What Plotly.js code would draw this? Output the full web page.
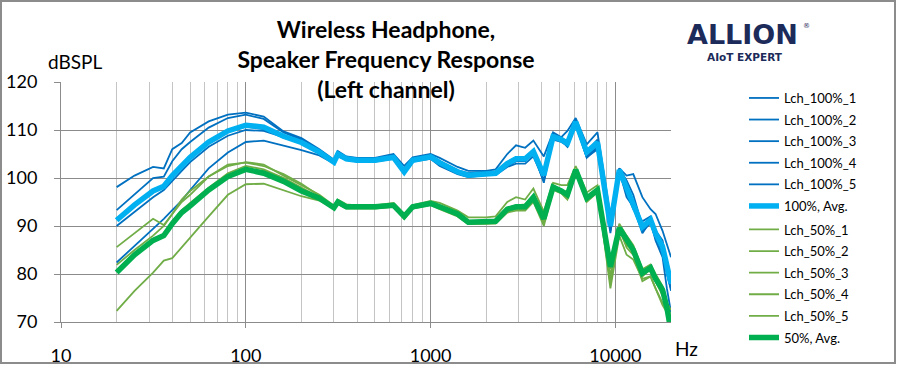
<!DOCTYPE html>
<html><head><meta charset="utf-8">
<script src="https://cdn.plot.ly/plotly-3.0.1.min.js"></script>
<style>
html,body{margin:0;padding:0;background:#fff;}
#wrap{position:relative;width:897px;height:365px;overflow:hidden;}
#chart{width:897px;height:365px;}
#frame{position:absolute;left:0;top:0;width:896px;height:364px;border:2px solid #8c8c8c;box-sizing:border-box;pointer-events:none;}
</style></head><body>
<div id="wrap"><div id="chart"></div><div id="frame"></div></div>
<script>
const freqHz = [20, 25, 31.5, 36, 40, 45, 50, 63, 80, 100, 125, 160, 200, 250, 300, 315, 350, 400, 500, 630, 720, 800, 1000, 1120, 1400, 1600, 2000, 2250, 2600, 2900, 3250, 3600, 4100, 4600, 5100, 5500, 6100, 7000, 8000, 9400, 10500, 11500, 12500, 14000, 15500, 16500, 18000, 19000, 20000];

const lch100_1 = [98.1, 100.5, 102.3, 102.0, 106.0, 107.3, 109.5, 111.8, 113.2, 113.6, 112.8, 109.7, 108.3, 106.0, 103.8, 105.6, 104.5, 104.2, 104.2, 105.0, 102.5, 104.3, 105.0, 104.2, 102.3, 101.5, 101.5, 101.8, 105.0, 106.8, 106.3, 107.8, 104.5, 109.5, 108.5, 109.8, 112.5, 107.0, 109.5, 92.0, 102.0, 100.5, 100.8, 96.0, 93.5, 92.5, 89.0, 86.0, 83.5];
const lch100_2 = [93.3, 96.5, 100.0, 100.3, 103.5, 106.0, 107.5, 110.5, 112.5, 113.2, 112.3, 109.5, 108.0, 105.8, 103.6, 105.4, 104.3, 104.0, 104.0, 104.6, 101.6, 104.0, 104.7, 103.5, 101.6, 101.0, 101.3, 101.3, 103.3, 104.3, 104.3, 105.8, 101.0, 109.0, 108.3, 107.5, 112.0, 105.5, 108.0, 89.0, 101.0, 97.0, 93.5, 91.0, 92.0, 88.5, 84.5, 80.0, 77.0];
const lch100_3 = [91.5, 94.6, 97.2, 98.2, 100.4, 102.4, 104.2, 107.3, 109.6, 110.7, 110.2, 108.4, 107.3, 105.5, 103.2, 104.9, 103.9, 103.6, 103.5, 104.2, 101.0, 103.6, 104.2, 103.0, 101.0, 100.3, 100.8, 100.8, 102.5, 103.5, 103.6, 105.0, 99.5, 108.2, 107.6, 106.8, 111.5, 104.5, 106.5, 89.5, 101.8, 97.5, 94.0, 89.0, 90.5, 87.5, 84.5, 80.5, 76.5];
const lch100_4 = [90.0, 93.0, 96.0, 97.5, 99.5, 101.5, 103.3, 106.5, 108.8, 110.0, 109.8, 108.5, 107.8, 105.5, 103.3, 105.0, 104.0, 103.8, 103.8, 104.3, 101.0, 103.7, 104.3, 103.0, 101.2, 100.5, 100.8, 100.8, 102.6, 103.5, 103.5, 105.2, 99.0, 108.5, 107.8, 106.5, 111.3, 104.2, 106.5, 91.0, 102.0, 99.5, 96.5, 90.0, 90.5, 89.0, 87.0, 82.5, 79.0];
const lch100_5 = [82.4, 85.8, 89.3, 91.5, 93.3, 95.3, 97.5, 102.0, 105.3, 107.5, 107.8, 106.8, 105.8, 104.7, 103.0, 104.5, 103.7, 103.4, 103.4, 104.0, 101.2, 103.4, 104.0, 102.5, 100.8, 100.2, 100.6, 100.6, 102.3, 103.0, 103.0, 104.5, 99.5, 108.0, 107.5, 106.8, 111.0, 104.3, 106.0, 88.5, 101.5, 96.0, 94.0, 88.5, 91.0, 87.0, 83.5, 77.0, 72.0];
const avg100 = [91.2, 94.4, 97.3, 98.3, 100.5, 102.5, 104.3, 107.5, 109.8, 111.0, 110.6, 108.7, 107.4, 105.4, 103.3, 105.0, 104.0, 103.7, 103.7, 104.3, 101.3, 103.7, 104.4, 103.2, 101.3, 100.6, 101.0, 101.0, 103.0, 104.0, 104.0, 105.5, 100.6, 108.6, 108.0, 107.2, 111.7, 105.4, 107.4, 90.0, 101.7, 98.0, 94.5, 89.8, 91.3, 88.5, 85.7, 82.0, 78.0];

const lch50_1 = [85.6, 88.5, 91.5, 90.2, 92.5, 95.5, 97.3, 100.3, 102.5, 103.3, 102.8, 100.5, 98.5, 96.5, 94.2, 95.5, 94.5, 94.3, 94.3, 94.8, 92.5, 94.3, 95.2, 94.8, 93.2, 91.8, 91.8, 92.0, 95.0, 96.0, 95.5, 97.8, 93.0, 99.0, 98.5, 98.5, 102.5, 97.0, 98.5, 79.0, 89.0, 86.0, 85.0, 81.0, 80.5, 78.5, 75.5, 74.0, 72.5];
const lch50_2 = [81.9, 85.0, 88.0, 90.0, 92.5, 95.0, 96.5, 100.3, 102.8, 103.2, 102.5, 100.8, 98.8, 96.3, 94.0, 95.2, 94.2, 94.2, 94.2, 94.6, 92.3, 94.2, 94.8, 94.2, 92.6, 91.0, 91.0, 91.2, 93.8, 94.3, 94.5, 96.3, 91.5, 98.5, 97.5, 97.0, 101.8, 96.0, 97.5, 77.0, 88.0, 84.0, 83.0, 79.0, 79.5, 77.0, 74.0, 72.5, 71.0];
const lch50_3 = [80.8, 84.3, 87.3, 88.3, 91.0, 93.3, 94.8, 98.0, 101.0, 102.5, 101.8, 100.0, 97.8, 96.0, 93.8, 95.0, 94.0, 94.0, 93.8, 94.2, 91.8, 93.8, 94.6, 93.8, 92.2, 90.6, 90.6, 90.8, 93.2, 93.6, 93.6, 95.6, 91.0, 98.0, 97.0, 96.0, 101.5, 95.5, 97.3, 79.5, 90.0, 87.5, 85.0, 79.5, 81.0, 78.5, 75.5, 73.0, 70.5];
const lch50_4 = [80.6, 84.0, 87.0, 88.0, 90.5, 92.8, 94.3, 97.6, 100.5, 101.7, 101.5, 100.0, 98.0, 96.0, 93.7, 94.8, 93.8, 93.8, 93.8, 94.1, 91.7, 93.8, 94.5, 93.7, 92.2, 90.5, 90.5, 90.7, 93.0, 93.5, 93.5, 95.5, 90.5, 97.8, 97.0, 96.0, 101.3, 95.3, 97.0, 81.0, 90.5, 88.0, 86.0, 81.0, 82.0, 80.0, 77.5, 74.0, 71.0];
const lch50_5 = [72.3, 76.5, 80.3, 82.8, 83.3, 85.5, 87.5, 92.0, 96.5, 98.7, 98.8, 97.5, 96.2, 95.3, 93.6, 94.6, 93.6, 93.6, 93.6, 94.0, 91.5, 93.6, 94.4, 93.5, 92.0, 90.4, 90.4, 90.5, 92.8, 93.2, 93.2, 95.0, 90.0, 97.5, 96.8, 95.5, 101.0, 95.0, 97.0, 78.0, 89.5, 85.5, 84.0, 78.5, 79.5, 77.0, 73.5, 72.0, 70.5];
const avg50 = [80.3, 84.0, 87.0, 88.0, 90.5, 92.8, 94.2, 97.5, 100.3, 101.8, 101.0, 99.3, 97.3, 95.8, 93.8, 95.0, 94.0, 94.0, 94.0, 94.3, 92.0, 94.0, 94.7, 94.0, 92.5, 90.8, 90.8, 91.0, 93.5, 94.0, 94.0, 96.0, 91.5, 98.1, 97.3, 96.5, 101.7, 95.8, 97.5, 81.5, 89.6, 87.0, 85.0, 80.2, 81.3, 79.0, 76.7, 73.0, 68.0];

const seriesNames = ['Lch_100%_1', 'Lch_100%_2', 'Lch_100%_3', 'Lch_100%_4', 'Lch_100%_5', '100%, Avg.', 'Lch_50%_1', 'Lch_50%_2', 'Lch_50%_3', 'Lch_50%_4', 'Lch_50%_5', '50%, Avg.'];
const xTickVals = [10, 100, 1000, 10000];
const xTickText = ['10', '100', '1000', '10000'];

const FONT = 'Lato, "Open Sans", sans-serif';
const seriesData = [lch100_1, lch100_2, lch100_3, lch100_4, lch100_5, avg100, lch50_1, lch50_2, lch50_3, lch50_4, lch50_5, avg50];
const styles = [
  ['#0070C0', 1.8], ['#0070C0', 1.8], ['#0070C0', 1.8], ['#0070C0', 1.8], ['#0070C0', 1.8], ['#00B0F0', 5.5],
  ['#70AD47', 1.8], ['#70AD47', 1.8], ['#70AD47', 1.8], ['#70AD47', 1.8], ['#70AD47', 1.8], ['#00B050', 5.5]
];
const traces = seriesData.map((ys, i) => ({
  type: 'scatter', mode: 'lines', x: freqHz, y: ys, name: seriesNames[i],
  legendgroup: 'g' + i, legend: i < 6 ? 'legend' : 'legend2',
  line: {color: styles[i][0], width: styles[i][1]}
}));

const PL = 61, PR = 671, PT = 82, PB = 322;
const px = v => (v - PL) / (PR - PL);
const py = v => (PB - v) / (PB - PT);

const legendBase = {
  xref: 'paper', yref: 'paper', xanchor: 'left', yanchor: 'top',
  font: {family: FONT, size: 13, color: '#000000'}, tracegroupgap: 1.7,
  bgcolor: 'rgba(0,0,0,0)', borderwidth: 0
};

const layout = {
  width: 897, height: 365,
  margin: {l: 61, r: 226, t: 82, b: 43, autoexpand: false},
  paper_bgcolor: '#ffffff', plot_bgcolor: '#ffffff',
  font: {family: FONT, color: '#000000', size: 18},
  title: {
    text: 'Wireless Headphone,<br>Speaker Frequency Response<br>(Left channel)',
    font: {family: FONT, size: 23, weight: 'bold', color: '#000000'},
    x: 386 / 897, xref: 'container', xanchor: 'center',
    y: 1 - 38 / 365, yref: 'container', yanchor: 'top'
  },
  showlegend: true,
  legend: Object.assign({}, legendBase, {x: px(744), y: py(83)}),
  legend2: Object.assign({}, legendBase, {x: px(744), y: py(214.5)}),
  xaxis: {
    type: 'log', range: [1, Math.log10(20000)],
    tickvals: xTickVals, ticktext: xTickText,
    ticks: 'outside', ticklen: 5, tickcolor: '#8c8c8c', tickwidth: 1,
    showgrid: true, gridcolor: '#8c8c8c', gridwidth: 1,
    showline: true, linecolor: '#8c8c8c', linewidth: 1, zeroline: false,
    minor: {dtick: 'D1', showgrid: true, gridcolor: '#c4c4c4', gridwidth: 1, ticks: ''},
    tickfont: {family: FONT, size: 18, color: '#000000'},
    ticklabelstandoff: 12, fixedrange: true
  },
  yaxis: {
    range: [70, 120], dtick: 10, tick0: 70,
    ticks: 'outside', ticklen: 6, tickcolor: '#8c8c8c', tickwidth: 1,
    showgrid: true, gridcolor: '#8c8c8c', gridwidth: 1,
    showline: true, linecolor: '#8c8c8c', linewidth: 1, zeroline: false,
    tickfont: {family: FONT, size: 18, color: '#000000'},
    ticklabelstandoff: 13, fixedrange: true
  },
  annotations: [
    {text: 'dBSPL', xref: 'paper', yref: 'paper', x: px(75), y: py(61), xanchor: 'center', yanchor: 'middle', showarrow: false, font: {family: FONT, size: 19, color: '#000000'}},
    {text: 'Hz', xref: 'paper', yref: 'paper', x: px(686), y: py(348), xanchor: 'center', yanchor: 'middle', showarrow: false, font: {family: FONT, size: 19, color: '#000000'}},
    {text: '<b>ALLION</b>', xref: 'paper', yref: 'paper', x: px(742), y: py(34), xanchor: 'center', yanchor: 'middle', showarrow: false, font: {family: '"DejaVu Sans", sans-serif', size: 27, color: '#1c2b5a'}},
    {text: '®', xref: 'paper', yref: 'paper', x: px(806), y: py(26), xanchor: 'center', yanchor: 'middle', showarrow: false, font: {family: '"DejaVu Sans", sans-serif', size: 7, color: '#1c2b5a'}},
    {text: '<b>AIoT EXPERT</b>', xref: 'paper', yref: 'paper', x: px(744.5), y: py(57), xanchor: 'center', yanchor: 'middle', showarrow: false, font: {family: '"DejaVu Sans", sans-serif', size: 10.5, color: '#1c2b5a'}}
  ]
};

Plotly.newPlot('chart', traces, layout, {staticPlot: true, displayModeBar: false});
</script>
</body></html>
